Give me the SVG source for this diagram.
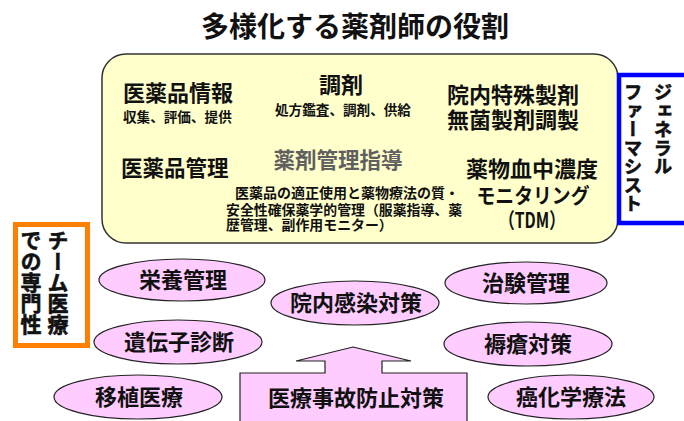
<svg xmlns="http://www.w3.org/2000/svg" width="684" height="421" viewBox="0 0 684 421">
<style>
text{font-family:"Noto Sans CJK JP","Noto Sans CJK SC",sans-serif;font-weight:bold;fill:#111}
.c{text-anchor:middle}
.big{font-size:22px}
.sm{font-size:13.6px}
.ell{fill:#FFCCFF;stroke:#222;stroke-width:1.2}
.v{writing-mode:vertical-rl;stroke:#111;stroke-width:0.6}
</style>
<rect width="684" height="421" fill="#fff"/>
<g id="title"><text class="c" x="355" y="37" style="font-size:28px">多様化する薬剤師の役割</text></g>
<g id="general-box">
<rect x="102" y="54" width="516" height="189" rx="24" ry="24" fill="#FFFFCC" stroke="#333" stroke-width="1.5"/>
<text class="big" x="123" y="101">医薬品情報</text>
<text class="sm" x="123" y="122">収集、評価、提供</text>
<text class="big c" x="341" y="93">調剤</text>
<text class="sm c" x="343" y="115">処方鑑査、調剤、供給</text>
<text class="big c" x="513" y="103">院内特殊製剤</text>
<text class="big c" x="513" y="128">無菌製剤調製</text>
<text class="big" x="121" y="176" style="font-size:21.5px">医薬品管理</text>
<text class="big c" x="338" y="168" style="font-size:21.5px;fill:#606060">薬剤管理指導</text>
<text x="235" y="198" style="font-size:14px">医薬品の適正使用と薬物療法の質・</text>
<text x="226" y="215" style="font-size:13.9px">安全性確保薬学的管理（服薬指導、薬</text>
<text x="226" y="230" style="font-size:13.9px">歴管理、副作用モニター）</text>
<text class="big c" x="532" y="177">薬物血中濃度</text>
<text class="c" x="533" y="203" style="font-size:21px" textLength="113" lengthAdjust="spacingAndGlyphs">モニタリング</text>
<text class="c" x="532" y="228" style="font-size:21px" textLength="66" lengthAdjust="spacingAndGlyphs">（TDM）</text>
</g>
<g id="general-pharmacist">
<rect x="619" y="75" width="80" height="148" fill="#fff" stroke="#0000FF" stroke-width="4.5"/>
<text class="v" x="663" y="83" style="font-size:18.5px">ジェネラル</text>
<text class="v" x="633" y="83" style="font-size:18.5px">ファーマシスト</text>
</g>
<g id="team-medicine">
<rect x="15.5" y="224.5" width="72" height="121" fill="#fff" stroke="#FF8000" stroke-width="5"/>
<text class="v" x="58" y="230" style="font-size:21px">チーム医療</text>
<text class="v" x="31" y="230" style="font-size:21px">での専門性</text>
</g>
<g id="eiyou"><ellipse class="ell" cx="182" cy="280" rx="83" ry="21"/><text class="big c" x="183" y="288">栄養管理</text></g>
<g id="idenshi"><ellipse class="ell" cx="178" cy="342" rx="84" ry="22"/><text class="big c" x="179" y="350">遺伝子診断</text></g>
<g id="ishoku"><ellipse class="ell" cx="138" cy="397" rx="84" ry="22"/><text class="big c" x="139" y="405">移植医療</text></g>
<g id="kansen"><ellipse class="ell" cx="355" cy="303" rx="84" ry="22"/><text class="big c" x="356" y="311">院内感染対策</text></g>
<g id="chiken"><ellipse class="ell" cx="526" cy="283" rx="81" ry="21"/><text class="big c" x="526" y="291">治験管理</text></g>
<g id="jokusou"><ellipse class="ell" cx="528" cy="344" rx="84" ry="22"/><text class="big c" x="528" y="352">褥瘡対策</text></g>
<g id="gan"><ellipse class="ell" cx="571" cy="397" rx="83" ry="22"/><text class="big c" x="571" y="405">癌化学療法</text></g>
<g id="jiko-boushi">
<polygon points="353,347 411,361 382,361 382,373 467,373 467,430 240,430 240,373 325,373 325,361 296,361" fill="#FFCCFF" stroke="#222" stroke-width="1.2"/>
<text class="big c" x="356" y="406">医療事故防止対策</text>
</g>
<g id="connectors"/>
</svg>
